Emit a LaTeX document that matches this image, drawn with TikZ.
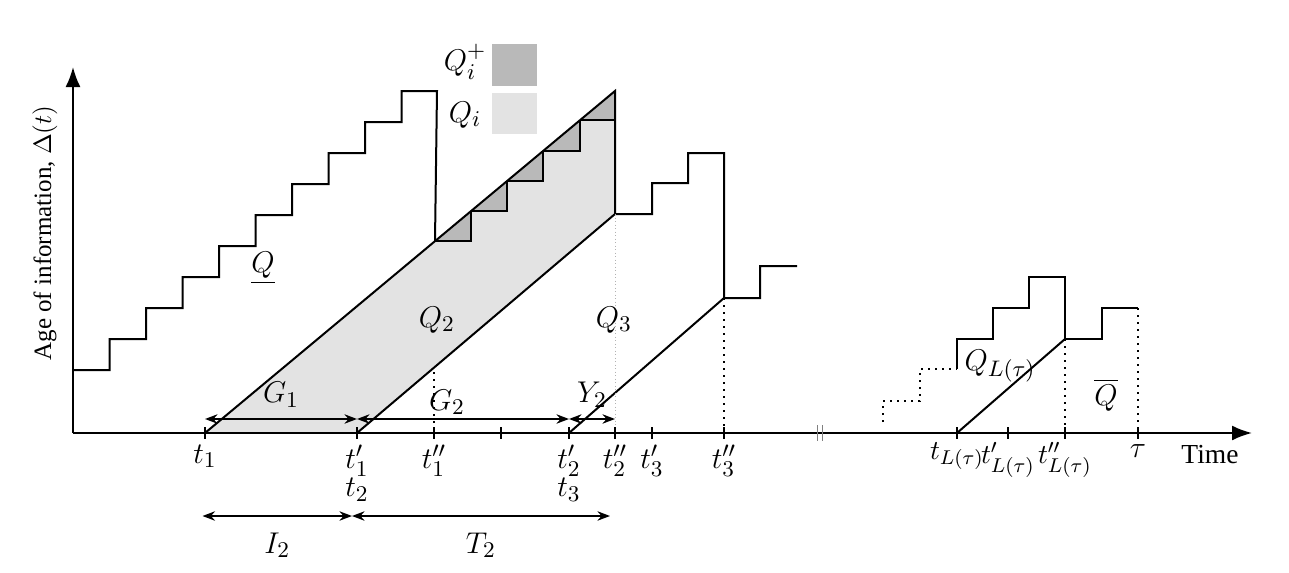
\documentclass[tikz,border=0pt]{standalone}
\usepackage{amsmath}
\usepackage{fontspec}
\setmainfont{Liberation Serif}
\usetikzlibrary{arrows.meta}
\tikzset{
  stair/.style={thick},
  guide/.style={thick,dotted},
  tickmark/.style={thick},
  lab/.style={font=\fontsize{12.5}{14}\selectfont},
  dimarrow/.style={thick,{Stealth[length=5pt]}-{Stealth[length=5pt]}},
}
\begin{document}
\begin{tikzpicture}[x=0.4pt,y=-0.4pt]
\useasboundingbox (0,0) rectangle (1289,573);
\foreach \n/\x in {t1/205,t1p/357,t1pp/434,tmid/501,t2p/569,t2pp/615,t3p/652,t3pp/724,tL/957,tLp/1008,tLpp/1065,tau/1138}
  \coordinate (\n) at (\x,433);
% areas Q_i and Q_i^+
\fill[gray!22] (t1) -- (615,91) -- (615,214) -- (t1p) -- cycle;
\foreach \xa/\xb/\ya/\yb in {435/471/241/211,471/507/211/181,507/543/181/151,543/580/151/120,580/615/120/91}{
  \fill[gray!55] (\xa,\ya) -- (\xb,\ya) -- (\xb,\yb) -- cycle;
  \draw[stair] (\xa,\ya) -- (\xb,\ya) -- (\xb,\yb);
}
% legend
\fill[gray!55] (492,44) rectangle (537,86);
\fill[gray!22] (492,93) rectangle (537,134);
\node[lab,inner sep=1pt] (lqp) at (465,62) {$Q_i^+$};
\node[lab,inner sep=1pt] (lq) at (465,115) {$Q_i$};
% axes
\draw[thick,-{Latex[length=8pt]}] (73,433) -- (73,67);
\draw[thick,-{Latex[length=8pt]}] (73,433) -- (1252,433);
\draw[gray] (817,425) -- (817,441) (822,425) -- (822,441);
% age curve
\draw[stair] (73,370) foreach \i in {1,...,9}{ -- ++(36.5,0) -- ++(0,-31) } -- (437,91) -- (435,241);
\draw[stair] (t1) -- (615,91) -- (615,214);
\draw[stair] (t1p) -- (615,214) -- (652,214) -- (652,183) -- (688,183) -- (688,153) -- (724,153) -- (724,298)
  -- (760,298) -- (760,266) -- (797,266);
\draw[stair] (t2p) -- (724,298);
\draw[gray!60,densely dotted] (615,214) -- (t2pp);
\draw[guide] (724,298) -- (t3pp);
\draw[guide] (434,372) -- (t1pp);
\draw[stair,dotted] (883,422) -- (883,401) -- (920,401) -- (920,369) -- (957,369);
\draw[stair] (957,369) -- (957,339) -- (993,339) -- (993,308) -- (1029,308) -- (1029,277) -- (1065,277) -- (1065,339)
  -- (1102,339) -- (1102,308) -- (1138,308);
\draw[stair] (tL) -- (1065,339);
\draw[guide] (1065,339) -- (tLpp);
\draw[guide] (1138,308) -- (tau);
% ticks and labels
\foreach \p in {t1,t1p,t1pp,tmid,t2p,t2pp,t3p,t3pp,tL,tLp,tLpp,tau}
  \draw[tickmark] (\p) ++(0,-6) -- ++(0,12);
\foreach \p/\l in {t1/t_1,t1p/t_1',t1pp/t_1'',t2p/t_2',t2pp/t_2'',t3p/t_3',t3pp/t_3'',tau/\tau}
  \node[lab,below=3.5pt,inner sep=1pt] (l\p) at (\p) {$\l$};
\foreach \p/\l in {tL/t_{L(\tau)},tLp/t_{L(\tau)}',tLpp/t_{L(\tau)}''}
  \node[font=\fontsize{11}{13}\selectfont,below=3.5pt,inner sep=0pt] (l\p) at (\p) {$\l$};
\node[lab] (lt2) at (357,490) {$t_2$};
\node[lab] (lt3) at (569,490) {$t_3$};
% intervals
\draw[dimarrow] ([yshift=5.6pt]t1) -- ([yshift=5.6pt]t1p) node[lab,midway,above=1pt] {$G_1$};
\draw[dimarrow] ([yshift=5.6pt]t1p) -- ([yshift=5.6pt]t2p);
\node[lab] at (447,402) {$G_2$};
\draw[dimarrow] ([yshift=5.6pt]t2p) -- ([yshift=5.6pt]t2pp) node[lab,midway,above=1pt] {$Y_2$};
\draw[dimarrow] ([yshift=-33.2pt,xshift=-1pt]t1) -- ([yshift=-33.2pt,xshift=-2pt]t1p) node[lab,midway,below=3pt] {$I_2$};
\draw[dimarrow] ([yshift=-33.2pt,xshift=-2pt]t1p) -- ([yshift=-33.2pt,xshift=-2pt]t2pp) node[lab,midway,below=3pt] {$T_2$};
% area labels
\node[lab] (qlow) at (263,268) {$\underline{Q}$};
\node[lab] (q2) at (437,320) {$Q_2$};
\node[lab] (q3) at (614,320) {$Q_3$};
\node[lab] (qL) at (1000,366) {$Q_{L(\tau)}$};
\node[lab] (qbar) at (1106,395) {$\overline{Q}$};
\node[font=\fontsize{11}{13}\selectfont] (time) at (1210,455) {Time};
\node[rotate=90] (ylab) at (45,233) {Age of information, $\Delta(t)$};
\end{tikzpicture}
\end{document}
